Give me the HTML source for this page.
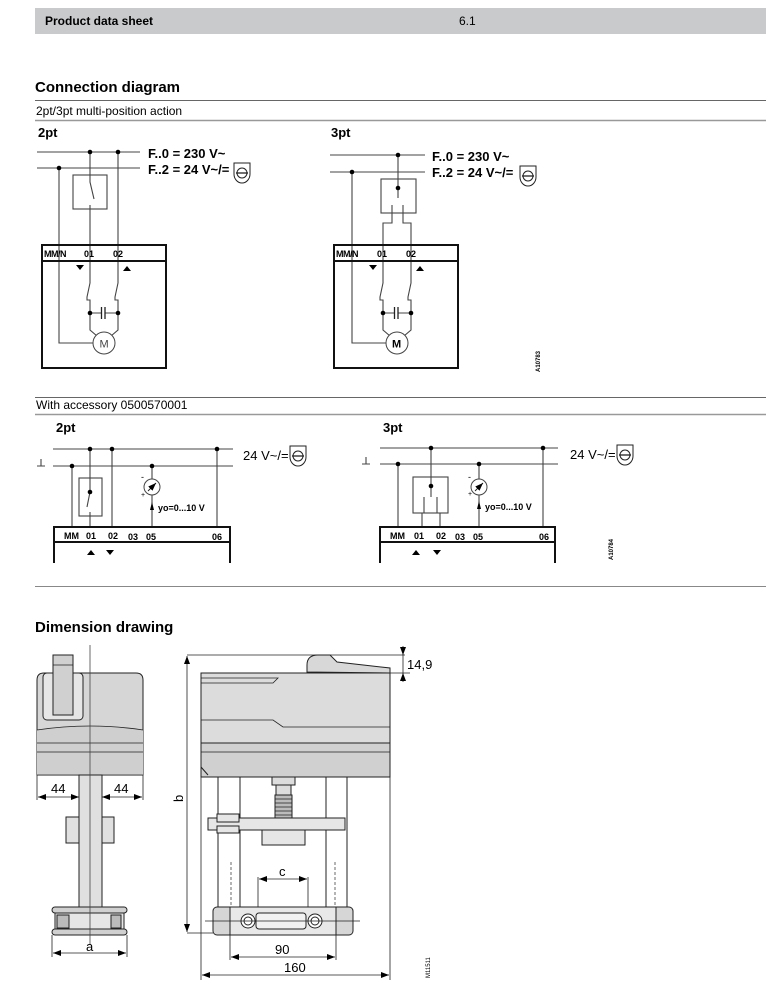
<!DOCTYPE html>
<html><head><meta charset="utf-8"><style>
html,body{margin:0;padding:0;background:#fff;}
svg{display:block;font-family:"Liberation Sans",sans-serif;}
.w{stroke:#444;stroke-width:1.1;fill:none}
.bx{stroke:#111;stroke-width:2;fill:none}
.t{font-size:9px;font-weight:bold;fill:#000}
.v{font-size:13px;fill:#000}
.d{stroke:#222;stroke-width:0.8;fill:none}
.b{fill:#d6d6d6;stroke:#222;stroke-width:1}
</style></head><body>
<svg width="766" height="996" viewBox="0 0 766 996" xmlns="http://www.w3.org/2000/svg">
<defs>
<g id="sym"><path d="M0,0H16V11A8,9 0 0 1 0,11Z" fill="#fff" stroke="#222" stroke-width="1"/><circle cx="8" cy="10" r="5" fill="none" stroke="#222" stroke-width="1"/><line x1="2" y1="10" x2="14" y2="10" stroke="#222" stroke-width="1.3"/></g>
<marker id="ar" markerWidth="8" markerHeight="6" refX="8" refY="3" orient="auto-start-reverse" markerUnits="userSpaceOnUse"><path d="M0,0L8,3L0,6Z" fill="#000"/></marker>
</defs>
<rect x="35" y="8" width="731" height="26" fill="#c8cacc"/>
<text x="45" y="25" font-size="12" font-weight="bold">Product data sheet</text>
<text x="459" y="25" font-size="12">6.1</text>
<text x="35" y="92" font-size="15" font-weight="bold">Connection diagram</text>
<line x1="35" y1="100.5" x2="766" y2="100.5" stroke="#666"/>
<text x="36" y="115" font-size="12">2pt/3pt multi-position action</text>
<line x1="35" y1="120.5" x2="766" y2="120.5" stroke="#999" stroke-width="1.5"/>

<text x="38" y="137" font-size="13" font-weight="bold">2pt</text>
<line class="w" x1="37" y1="152" x2="140" y2="152"/>
<line class="w" x1="37" y1="168" x2="140" y2="168"/>
<text x="148" y="158" class="v" font-weight="bold" font-size="12">F..0 = 230 V~</text>
<text x="148" y="174" class="v" font-weight="bold" font-size="12">F..2 = 24 V~/=</text>
<use href="#sym" x="234" y="163"/>
<rect class="w" x="73" y="175" width="34" height="34"/>
<path class="w" d="M90,152V182L94,199M90,205V283L87,297V300H90V330L97,336M118,152V283L115,297V300H118V330L111,336M59,168V343H93M90,313H101M105,313H118"/>
<line x1="101.5" y1="307" x2="101.5" y2="319" stroke="#222" stroke-width="1.3"/><line x1="105" y1="307" x2="105" y2="319" stroke="#222" stroke-width="1.3"/>
<circle cx="104" cy="343" r="11" fill="#fff" stroke="#444"/><text x="99.5" y="347.5" font-size="11" fill="#444">M</text>
<g fill="#000"><circle cx="90" cy="152" r="2.3"/><circle cx="118" cy="152" r="2.3"/><circle cx="59" cy="168" r="2.3"/><circle cx="90" cy="313" r="2.3"/><circle cx="118" cy="313" r="2.3"/></g>
<rect class="bx" x="42" y="245" width="124" height="123"/><line class="bx" x1="42" y1="261" x2="166" y2="261"/>
<text class="t" x="44" y="257" letter-spacing="-0.5">MM/N</text><text class="t" x="84" y="257">01</text><text class="t" x="113" y="257">02</text>
<path d="M76,265H84L80,270Z M123,271H131L127,266Z" fill="#000"/>

<text x="331" y="137" font-size="13" font-weight="bold">3pt</text>
<line class="w" x1="330" y1="155" x2="425" y2="155"/>
<line class="w" x1="330" y1="172" x2="425" y2="172"/>
<text x="432" y="161" class="v" font-weight="bold" font-size="12">F..0 = 230 V~</text>
<text x="432" y="177" class="v" font-weight="bold" font-size="12">F..2 = 24 V~/=</text>
<use href="#sym" x="520" y="166"/>
<rect class="w" x="381" y="179" width="35" height="34"/>
<path class="w" d="M398,155V188L398,198M392,205V223H383V283L380,297V300H383V330L390,336M403,205V223H411V283L408,297V300H411V330L404,336M352,172V343H386M383,313H394M398,313H411"/>
<line x1="394.5" y1="307" x2="394.5" y2="319" stroke="#222" stroke-width="1.3"/><line x1="398" y1="307" x2="398" y2="319" stroke="#222" stroke-width="1.3"/>
<circle cx="397" cy="343" r="11" fill="#fff" stroke="#444"/><text x="392" y="347.5" font-size="11" font-weight="bold">M</text>
<g fill="#000"><circle cx="398" cy="155" r="2.3"/><circle cx="352" cy="172" r="2.3"/><circle cx="398" cy="188" r="2.3"/><circle cx="383" cy="313" r="2.3"/><circle cx="411" cy="313" r="2.3"/></g>
<rect class="bx" x="334" y="245" width="124" height="123"/><line class="bx" x1="334" y1="261" x2="458" y2="261"/>
<text class="t" x="336" y="257" letter-spacing="-0.5">MM/N</text><text class="t" x="377" y="257">01</text><text class="t" x="406" y="257">02</text>
<path d="M369,265H377L373,270Z M416,271H424L420,266Z" fill="#000"/>
<text x="0" y="0" font-size="6" font-weight="bold" transform="translate(540,372) rotate(-90)">A10783</text>

<line x1="35" y1="397.5" x2="766" y2="397.5" stroke="#666"/>
<text x="36" y="409" font-size="12">With accessory 0500570001</text>
<line x1="35" y1="414.5" x2="766" y2="414.5" stroke="#999" stroke-width="1.5"/>

<text x="56" y="432" font-size="13" font-weight="bold">2pt</text>
<line class="w" x1="53" y1="449" x2="233" y2="449"/>
<line class="w" x1="53" y1="466" x2="233" y2="466"/>
<path class="w" d="M41,459V466M37,466H45"/>
<text x="243" y="460" class="v">24 V~/=</text>
<use href="#sym" x="290" y="446"/>
<rect class="w" x="79" y="478" width="23" height="38"/>
<path class="w" d="M90,449V492L87,507M90,512V527M112,449V527M72,466V527M152,466V479M152,495V527M217,449V527"/>
<circle cx="152" cy="487" r="8" fill="#fff" stroke="#444"/><path d="M148,491L156,483" stroke="#222" marker-end="url(#ar)"/>
<path d="M150,510L152,502L154,510Z" fill="#000"/>
<text x="141" y="480" font-size="9">-</text><text x="141" y="497" font-size="7">+</text>
<text class="t" x="158" y="511">yo=0...10 V</text>
<g fill="#000"><circle cx="90" cy="449" r="2.3"/><circle cx="112" cy="449" r="2.3"/><circle cx="217" cy="449" r="2.3"/><circle cx="72" cy="466" r="2.3"/><circle cx="152" cy="466" r="2.3"/><circle cx="90" cy="492" r="2.3"/></g>
<path class="bx" d="M54,563V527H230V563M54,542H230" stroke-width="1.6"/>
<text class="t" x="64" y="539">MM</text><text class="t" x="86" y="539">01</text><text class="t" x="108" y="539">02</text><text class="t" x="128" y="540">03</text><text class="t" x="146" y="540">05</text><text class="t" x="212" y="540">06</text>
<path d="M87,555H95L91,550Z M106,550H114L110,555Z" fill="#000"/>

<text x="383" y="432" font-size="13" font-weight="bold">3pt</text>
<line class="w" x1="380" y1="448" x2="558" y2="448"/>
<line class="w" x1="380" y1="464" x2="558" y2="464"/>
<path class="w" d="M366,457V464M362,464H370"/>
<text x="570" y="459" class="v">24 V~/=</text>
<use href="#sym" x="617" y="445"/>
<rect class="w" x="413" y="477" width="35" height="36"/>
<path class="w" d="M431,448V497M424,497V513H422V527M437,497V513H440V527M398,464V527M479,464V479M479,495V527M543,448V527"/>
<circle cx="479" cy="487" r="8" fill="#fff" stroke="#444"/><path d="M475,491L483,483" stroke="#222" marker-end="url(#ar)"/>
<path d="M477,509L479,501L481,509Z" fill="#000"/>
<text x="468" y="480" font-size="9">-</text><text x="468" y="496" font-size="7">+</text>
<text class="t" x="485" y="510">yo=0...10 V</text>
<g fill="#000"><circle cx="431" cy="448" r="2.3"/><circle cx="543" cy="448" r="2.3"/><circle cx="398" cy="464" r="2.3"/><circle cx="479" cy="464" r="2.3"/><circle cx="431" cy="486" r="2.3"/></g>
<path class="bx" d="M380,563V527H555V563M380,542H555" stroke-width="1.6"/>
<text class="t" x="390" y="539">MM</text><text class="t" x="414" y="539">01</text><text class="t" x="436" y="539">02</text><text class="t" x="455" y="540">03</text><text class="t" x="473" y="540">05</text><text class="t" x="539" y="540">06</text>
<path d="M412,555H420L416,550Z M433,550H441L437,555Z" fill="#000"/>
<text x="0" y="0" font-size="6" font-weight="bold" transform="translate(613,560) rotate(-90)">A10784</text>

<line x1="35" y1="586.5" x2="766" y2="586.5" stroke="#888"/>
<text x="35" y="632" font-size="15" font-weight="bold">Dimension drawing</text>

<path class="b" d="M37,775V680Q37,673 44,673H136Q143,673 143,680V775Z" fill="#e0e0e0"/>
<path d="M37,730Q90,722 143,730V775H37Z" fill="#cfcfcf" stroke="none"/>
<path class="d" d="M37,730Q90,722 143,730M37,743H143M37,752H143M37,775H143"/>
<rect x="43" y="673" width="40" height="47" rx="4" fill="#e6e6e6" stroke="#222"/>
<rect x="53" y="655" width="20" height="60" fill="#d0d0d0" stroke="#222"/>
<line class="d" x1="53" y1="665" x2="73" y2="665"/>
<rect x="79" y="775" width="23" height="132" fill="#e0e0e0" stroke="#222"/>
<rect x="66" y="817" width="13" height="26" fill="#e0e0e0" stroke="#222"/>
<rect x="102" y="817" width="12" height="26" fill="#e0e0e0" stroke="#222"/>
<rect x="52" y="907" width="75" height="6" rx="3" fill="#d0d0d0" stroke="#222"/>
<rect x="55" y="913" width="69" height="17" fill="#e6e6e6" stroke="#222"/>
<rect x="52" y="929" width="75" height="6" rx="3" fill="#d0d0d0" stroke="#222"/>
<rect x="57" y="915" width="12" height="13" fill="#bbb" stroke="#222"/><rect x="111" y="915" width="10" height="13" fill="#bbb" stroke="#222"/>
<line x1="90" y1="645" x2="90" y2="945" stroke="#444" stroke-width="0.8"/>
<path class="d" d="M37,775V800M143,775V800M52,935V957M127,935V957"/>
<line class="d" x1="38" y1="797" x2="79" y2="797" marker-start="url(#ar)" marker-end="url(#ar)"/>
<line class="d" x1="102" y1="797" x2="142" y2="797" marker-start="url(#ar)" marker-end="url(#ar)"/>
<text x="51" y="793" font-size="13">44</text><text x="114" y="793" font-size="13">44</text>
<line class="d" x1="53" y1="953" x2="126" y2="953" marker-start="url(#ar)" marker-end="url(#ar)"/>
<text x="86" y="951" font-size="13">a</text>

<path d="M307,672V665Q307,655 318,655H330L337,662L390,668V673Z" fill="#d8d8d8" stroke="#222"/>
<rect x="201" y="673" width="189" height="104" fill="#dcdcdc" stroke="#222"/>
<rect x="201" y="743" width="189" height="34" fill="#d0d0d0" stroke="#222"/>
<path class="d" d="M201,678H278L273,683H201M201,720H273L283,727H390M201,752H390"/>
<path d="M201,767L208,775" stroke="#222"/>
<rect x="218" y="777" width="22" height="130" fill="#fff" stroke="#222"/>
<rect x="326" y="777" width="21" height="130" fill="#fff" stroke="#222"/>
<rect x="272" y="777" width="23" height="8" fill="#ddd" stroke="#222"/>
<rect x="276" y="785" width="15" height="10" fill="#ddd" stroke="#222"/>
<rect x="275" y="795" width="17" height="23" fill="#bbb" stroke="#222"/>
<path class="d" d="M275,799H292M275,803H292M275,807H292M275,811H292M275,815H292"/>
<rect x="208" y="818" width="137" height="12" fill="#e6e6e6" stroke="#222"/>
<rect x="217" y="814" width="22" height="8" fill="#e6e6e6" stroke="#222"/><rect x="217" y="826" width="22" height="7" fill="#e6e6e6" stroke="#222"/>
<rect x="262" y="830" width="43" height="15" fill="#e6e6e6" stroke="#222"/>
<path d="M231,862V907M335,862V907" stroke="#444" stroke-width="0.8" stroke-dasharray="3,2"/>
<rect x="213" y="907" width="140" height="28" rx="4" fill="#d6d6d6" stroke="#222"/>
<rect x="230" y="907" width="106" height="28" fill="#e8e8e8" stroke="#222"/>
<rect x="256" y="913" width="50" height="16" rx="3" fill="#f2f2f2" stroke="#222"/>
<circle cx="248" cy="921" r="7" fill="#fff" stroke="#222"/><circle cx="248" cy="921" r="4" fill="none" stroke="#222"/>
<circle cx="315" cy="921" r="7" fill="#fff" stroke="#222"/><circle cx="315" cy="921" r="4" fill="none" stroke="#222"/>
<line class="d" x1="205" y1="921" x2="360" y2="921"/>
<path class="d" d="M187,655H405M390,673H410M187,933H213M201,777V980M390,777V980M230,935V960M336,935V960M258,877V907M308,877V907"/>
<line class="d" x1="187" y1="656" x2="187" y2="932" marker-start="url(#ar)" marker-end="url(#ar)"/>
<text x="0" y="0" font-size="13" transform="translate(183,802) rotate(-90)">b</text>
<line class="d" x1="403" y1="646" x2="403" y2="655" marker-end="url(#ar)"/><line class="d" x1="403" y1="682" x2="403" y2="673" marker-end="url(#ar)"/>
<line class="d" x1="403" y1="655" x2="403" y2="673"/>
<text x="407" y="669" font-size="13">14,9</text>
<line class="d" x1="259" y1="879" x2="307" y2="879" marker-start="url(#ar)" marker-end="url(#ar)"/>
<text x="279" y="876" font-size="13">c</text>
<line class="d" x1="231" y1="957" x2="335" y2="957" marker-start="url(#ar)" marker-end="url(#ar)"/>
<text x="275" y="954" font-size="13">90</text>
<line class="d" x1="202" y1="975" x2="389" y2="975" marker-start="url(#ar)" marker-end="url(#ar)"/>
<text x="284" y="972" font-size="13">160</text>
<text x="0" y="0" font-size="6" transform="translate(430,978) rotate(-90)">M11511</text>
</svg>
</body></html>
